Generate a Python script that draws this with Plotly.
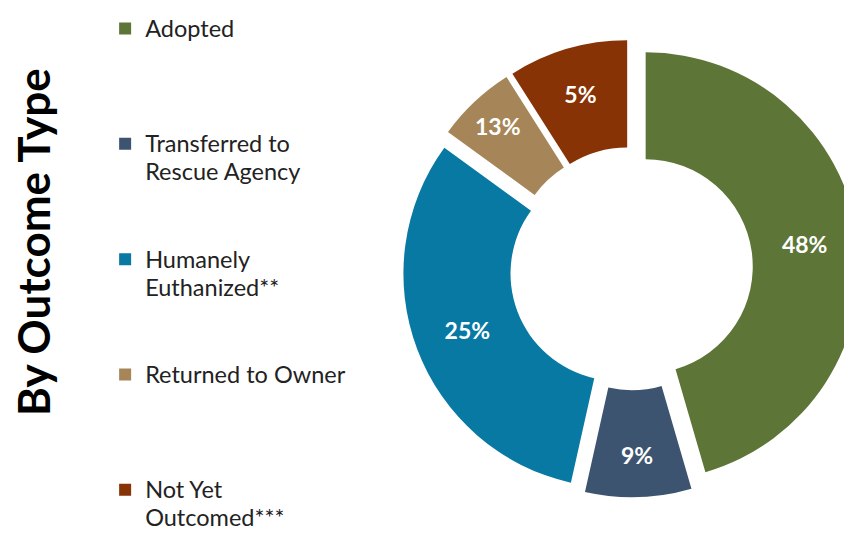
import plotly.graph_objects as go

# outcome categories (legend order = slice order, clockwise from 12 o'clock)
outcomes = ["Adopted", "Transferred to<br>Rescue Agency", "Humanely<br>Euthanized**",
            "Returned to Owner", "Not Yet<br>Outcomed***"]
# slice sizes as drawn in the picture (angles), and the printed percentage labels
slice_share = [45.5, 8, 31.5, 6, 9]
pct_labels = ["48%", "9%", "25%", "13%", "5%"]
colors = ["#5E7538", "#3D5470", "#0779A3", "#A68658", "#873306"]

# pad legend entries to 4 lines so they are spread down the page (last one stays short);
# glyphs drawn a bit larger than the line-spacing font
def pad(name, lines=4):
    n = name.count("<br>") + 1
    big = "<br>".join('<span style="font-size:23.5px">%s</span>' % s for s in name.split("<br>"))
    return big + "<br> " * max(lines - n, 0)

legend_names = [pad(o) for o in outcomes[:-1]] + [pad(outcomes[-1], 2)]

fig = go.Figure()

fig.add_trace(go.Pie(
    labels=legend_names,
    values=slice_share,
    text=pct_labels,
    textinfo="text",
    textposition="inside",
    insidetextorientation="horizontal",
    textfont=dict(family="Lato", size=23, color="white", weight="bold"),
    marker=dict(colors=colors, line=dict(width=0)),
    hole=0.5,
    pull=0.068,
    sort=False,
    direction="clockwise",
    rotation=0,
    hoverinfo="text",
    domain=dict(x=[0.463, 1.0], y=[0.0906, 0.941])
))

fig.add_annotation(
    text="<b>By Outcome Type</b>",
    x=25 / 852, y=1 - 234 / 538, xref="paper", yref="paper",
    xanchor="center", yanchor="middle",
    textangle=-90, showarrow=False,
    font=dict(family="Lato", size=44, color="black")
)

fig.update_layout(
    width=852,
    height=538,
    margin=dict(l=0, r=0, t=0, b=0, autoexpand=False),
    paper_bgcolor="white",
    plot_bgcolor="white",
    showlegend=True,
    legend=dict(
        x=0.114, y=1.0, xanchor="left", yanchor="top",
        valign="top",
        font=dict(family="Lato", size=21.6, color="#222222"),
        bgcolor="rgba(0,0,0,0)",
        traceorder="normal"
    )
)

fig.write_html("out.html")
